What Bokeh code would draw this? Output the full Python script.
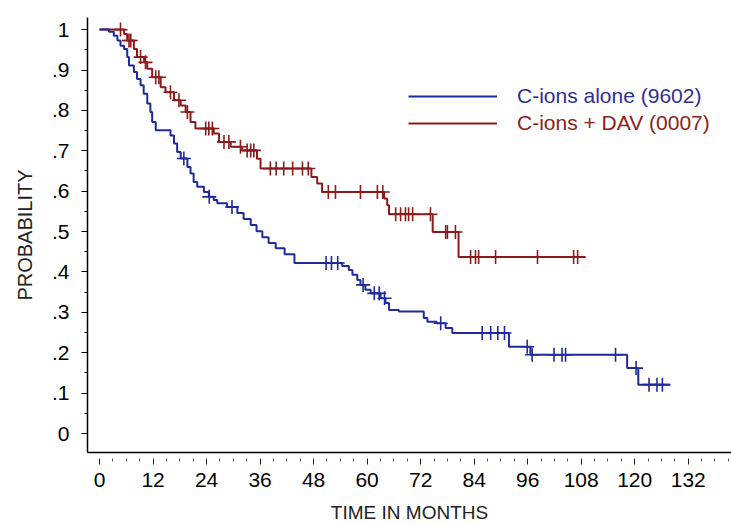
import numpy as np
from bokeh.plotting import figure
from bokeh.models import FixedTicker, Legend, LegendItem, Range1d
from bokeh.embed import file_html
from bokeh.resources import INLINE

# ---------------- data ----------------
x_ticks = [0, 12, 24, 36, 48, 60, 72, 84, 96, 108, 120, 132]
x_minor = [m for m in range(3, 142, 3) if m % 12 != 0]
y_ticks = [0, 0.1, 0.2, 0.3, 0.4, 0.5, 0.6, 0.7, 0.8, 0.9, 1.0]
y_tick_labels = ["0", ".1", ".2", ".3", ".4", ".5", ".6", ".7", ".8", ".9", "1"]
y_minor = [0.05, 0.15, 0.25, 0.35, 0.45, 0.55, 0.65, 0.75, 0.85, 0.95]

# C-ions alone (9602): event times (months) and survival after each event
blue_times = [2.1, 3.2, 4.0, 4.7, 5.5, 6.2, 6.6, 7.7, 8.4, 9.2, 9.9, 10.7, 11.4, 11.8, 12.6,
              15.9, 16.7, 17.4, 18.2, 19.7, 20.4, 21.1, 21.9, 23.4, 24.5, 25.6, 26.4, 28.6,
              30.9, 32.3, 33.9, 35.2, 36.5, 37.9, 39.5, 41.5, 43.7, 54.4, 55.9, 56.7, 57.8,
              58.5, 59.6, 60.8, 63.0, 64.1, 64.9, 67.1, 72.7, 73.5, 75.6, 77.6, 79.1, 91.8,
              96.6, 118.3, 120.8]
blue_surv = [0.995, 0.985, 0.973, 0.960, 0.952, 0.932, 0.911, 0.895, 0.878, 0.862, 0.841,
             0.817, 0.796, 0.771, 0.751, 0.738, 0.718, 0.697, 0.681, 0.660, 0.644, 0.623,
             0.611, 0.598, 0.586, 0.578, 0.570, 0.561, 0.546, 0.531, 0.516, 0.501, 0.486,
             0.472, 0.459, 0.444, 0.422, 0.415, 0.405, 0.393, 0.380, 0.368, 0.356, 0.347,
             0.335, 0.323, 0.306, 0.302, 0.286, 0.277, 0.273, 0.261, 0.249, 0.215, 0.195,
             0.162, 0.121]
blue_censored = [18.9, 24.6, 29.7, 50.8, 52.0, 53.4, 59.1, 61.6, 62.7, 63.9, 76.5, 85.8,
                 87.7, 89.3, 90.8, 95.9, 97.0, 101.9, 103.7, 104.5, 115.7, 120.3, 123.2,
                 125.0, 126.2]
blue_end = 128.0

# C-ions + DAV (0007)
red_times = [5.5, 6.2, 7.7, 8.4, 10.0, 10.7, 11.8, 13.7, 14.8, 16.7, 18.2, 19.3, 20.4, 21.5,
             25.6, 26.8, 29.4, 32.0, 35.3, 36.1, 47.5, 48.8, 49.9, 63.8, 64.5, 64.9, 74.7,
             80.5]
red_surv = [0.989, 0.973, 0.952, 0.932, 0.919, 0.903, 0.882, 0.857, 0.845, 0.825, 0.812,
            0.796, 0.771, 0.755, 0.743, 0.722, 0.710, 0.701, 0.680, 0.656, 0.635, 0.619,
            0.598, 0.582, 0.565, 0.543, 0.499, 0.437]
red_censored = [4.7, 6.6, 7.0, 9.2, 10.3, 12.6, 13.3, 15.9, 17.8, 19.7, 23.8, 24.5, 25.3,
                27.9, 29.0, 31.6, 33.1, 33.9, 34.6, 38.3, 39.6, 41.3, 43.3, 45.5, 46.8,
                51.3, 52.9, 58.5, 62.3, 63.5, 66.4, 67.5, 68.6, 69.3, 70.2, 74.2, 77.6,
                78.0, 79.8, 83.2, 84.3, 85.0, 88.8, 98.2, 106.3, 107.2]
red_end = 109.0

series_names = ["C-ions alone (9602)", "C-ions + DAV (0007)"]
BLUE = "#1f2a9c"
RED = "#8b1a1a"
BLUE_TXT = "#2e2e94"
RED_TXT = "#8e2020"


def km_path(times, surv, end):
    xs, ys = [0.0], [1.0]
    prev = 1.0
    for t, s in zip(times, surv):
        xs += [t, t]
        ys += [prev, s]
        prev = s
    xs.append(end)
    ys.append(prev)
    return xs, ys


def km_at(times, surv, tc):
    t = np.asarray(times)
    s = np.concatenate([[1.0], np.asarray(surv)])
    idx = np.searchsorted(t, np.asarray(tc), side="right")
    return list(s[idx])


p = figure(width=731, height=525, output_backend="svg", toolbar_location=None,
           x_range=Range1d(-2.7, 141.7), y_range=Range1d(-0.047, 1.030),
           min_border_left=87, min_border_right=0, min_border_top=17,
           min_border_bottom=72)
p.grid.visible = False
p.outline_line_color = None
p.background_fill_color = "white"
p.border_fill_color = "white"

FONT = "Liberation Sans"

# x axis
xa = p.xaxis[0]
xa.ticker = FixedTicker(ticks=x_ticks, minor_ticks=x_minor)
xa.axis_line_color = "black"
xa.axis_line_width = 1.5
xa.major_tick_in = -6
xa.major_tick_out = 12
xa.minor_tick_in = -6
xa.minor_tick_out = 9
xa.major_tick_line_color = "#222222"
xa.minor_tick_line_color = "#555555"
xa.major_label_standoff = 8
xa.major_label_text_font = FONT
xa.major_label_text_font_size = "21px"
xa.major_label_text_color = "black"
xa.axis_label = "TIME IN MONTHS"
xa.axis_label_text_font = FONT
xa.axis_label_text_font_size = "19px"
xa.axis_label_text_font_style = "normal"
xa.axis_label_text_color = "#222222"
xa.axis_label_standoff = 12

# y axis
ya = p.yaxis[0]
ya.ticker = FixedTicker(ticks=y_ticks, minor_ticks=y_minor)
ya.major_label_overrides = {v: l for v, l in zip(y_ticks, y_tick_labels)}
ya.axis_line_color = "black"
ya.axis_line_width = 1.5
ya.major_tick_in = 0
ya.major_tick_out = 6
ya.minor_tick_in = 0
ya.minor_tick_out = 3
ya.major_label_standoff = 12
ya.major_label_text_font = FONT
ya.major_label_text_font_size = "21px"
ya.major_label_text_color = "black"
ya.axis_label = "PROBABILITY"
ya.axis_label_text_font = FONT
ya.axis_label_text_font_size = "20px"
ya.axis_label_text_font_style = "normal"
ya.axis_label_text_color = "#222222"
ya.axis_label_standoff = 13

# curves
rx, ry = km_path(red_times, red_surv, red_end)
bx, by = km_path(blue_times, blue_surv, blue_end)
r_line = p.line(rx, ry, line_color=RED, line_width=2)
p.scatter(red_censored, km_at(red_times, red_surv, red_censored), marker="cross",
          size=14, line_color=RED, line_width=1.6)
b_line = p.line(bx, by, line_color=BLUE, line_width=2)
p.scatter(blue_censored, km_at(blue_times, blue_surv, blue_censored), marker="cross",
          size=14, line_color=BLUE, line_width=1.6)

# legends
for name, rend, col, yloc in [(series_names[0], b_line, BLUE_TXT, 344),
                              (series_names[1], r_line, RED_TXT, 317)]:
    lg = Legend(items=[LegendItem(label=name, renderers=[rend])],
                location=(321, yloc), orientation="vertical",
                glyph_width=89, glyph_height=24, label_standoff=20,
                padding=0, margin=0, spacing=0,
                border_line_color=None, background_fill_alpha=0,
                label_text_font=FONT, label_text_font_size="21px",
                label_text_color=col)
    p.add_layout(lg)

open("out.html", "w").write(file_html(p, INLINE))
